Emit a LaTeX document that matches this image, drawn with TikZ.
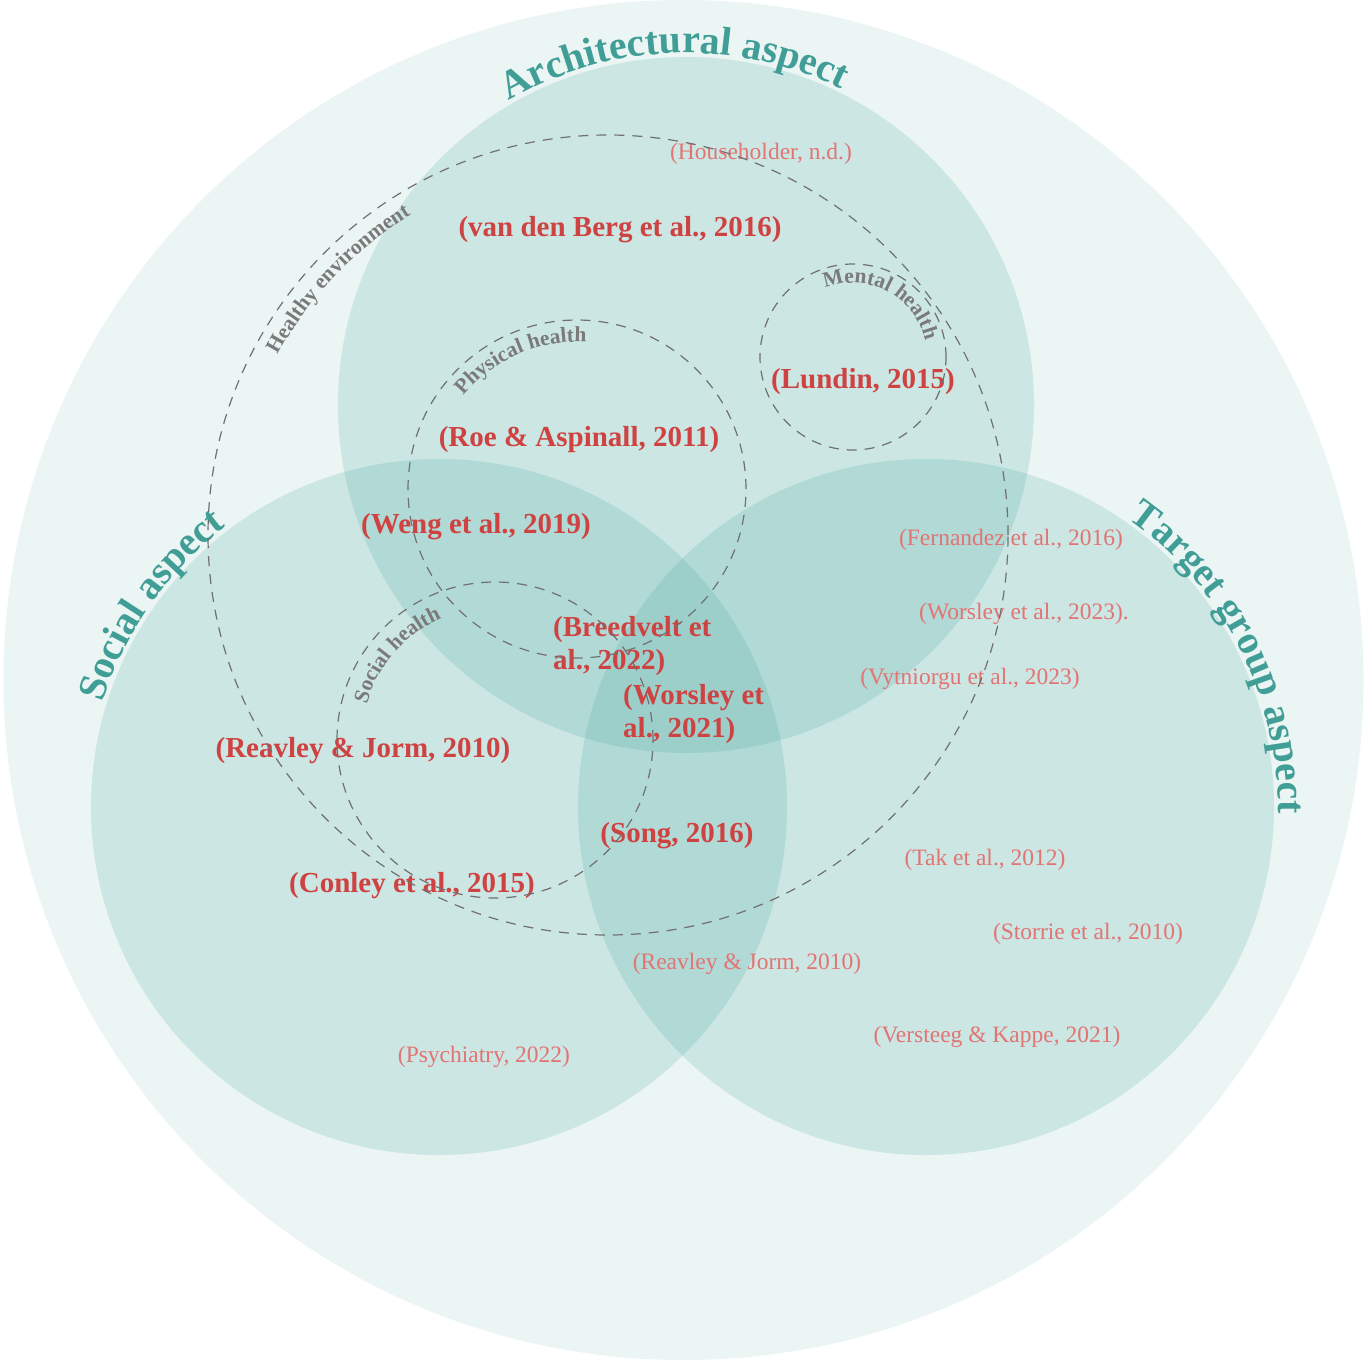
\documentclass[tikz,border=0pt]{standalone}
\usepackage{fontspec}
\setmainfont{Liberation Serif}
\usetikzlibrary{decorations.text}
\definecolor{aspteal}{RGB}{67,166,155}
\definecolor{outerteal}{RGB}{235,245,244}
\definecolor{headteal}{RGB}{64,158,150}
\definecolor{refred}{RGB}{207,66,66}
\definecolor{lightred}{RGB}{226,116,116}
\definecolor{labelgray}{RGB}{122,122,122}
\definecolor{dashgray}{RGB}{112,112,112}
\begin{document}
\begin{tikzpicture}[x=1pt, y=-1pt,
  aspect/.style={circle, inner sep=0pt, fill=aspteal, fill opacity=0.19, minimum size=696pt},
  field/.style={circle, inner sep=0pt, draw=dashgray, line width=1.2pt, dash pattern=on 10pt off 8pt},
  keyref/.style={text=refred, font=\fontsize{29}{33}\selectfont\bfseries, inner sep=0pt, yshift=-2pt},
  minorref/.style={text=lightred, font=\fontsize{23.5}{26}\selectfont, inner sep=0pt, yshift=-2pt},
  heading/.style={decorate, decoration={text along path, text align=center, text color=headteal,
    text={|\fontsize{40}{40}\selectfont\bfseries|#1}}},
  fieldlabel/.style={decorate, decoration={text along path, text align=center, text color=labelgray,
    text={|\fontsize{21.5}{21.5}\selectfont\bfseries|#1}}}]
  \useasboundingbox (0,0) rectangle (1367,1360);
  \node[circle, inner sep=0pt, fill=outerteal, minimum size=1360pt] (whole) at (683.5,680) {};
  \node[aspect] (arch) at (686,405) {};
  \node[aspect] (social) at (439,807) {};
  \node[aspect] (target) at (926,807) {};
  \path[heading=Architectural aspect] ([shift={(140:352pt)}]arch.center) arc[start angle=140, end angle=44, radius=352pt];
  \path[heading=Social aspect] ([shift={(185:352pt)}]social.center) arc[start angle=185, end angle=105, radius=352pt];
  \path[heading=Target group aspect] ([shift={(75:352pt)}]target.center) arc[start angle=75, end angle=-21, radius=352pt];

  \node[keyref] (berg) at (620,228) {(van den Berg et al., 2016)};
  \node[keyref] (lundin) at (863,380) {(Lundin, 2015)};
  \node[keyref] (roe) at (579,438) {(Roe \& Aspinall, 2011)};
  \node[keyref] (weng) at (476,525) {(Weng et al., 2019)};
  \node[keyref, align=left, anchor=west] (breedvelt) at (553,644) {(Breedvelt et\\al., 2022)};
  \node[keyref, align=left, anchor=west] (worsley) at (623,712) {(Worsley et\\al., 2021)};
  \node[keyref] (reavley) at (363,749) {(Reavley \& Jorm, 2010)};
  \node[keyref] (song) at (677,834) {(Song, 2016)};
  \node[keyref] (conley) at (412,884) {(Conley et al., 2015)};

  \node[minorref] (householder) at (761,152) {(Householder, n.d.)};
  \node[minorref] (fernandez) at (1011,538) {(Fernandez et al., 2016)};
  \node[minorref] (worsleyb) at (1024,612) {(Worsley et al., 2023).};
  \node[minorref] (vytniorgu) at (970,677) {(Vytniorgu et al., 2023)};
  \node[minorref] (tak) at (985,858) {(Tak et al., 2012)};
  \node[minorref] (storrie) at (1088,932) {(Storrie et al., 2010)};
  \node[minorref] (reavleyb) at (747,962) {(Reavley \& Jorm, 2010)};
  \node[minorref] (versteeg) at (997,1035) {(Versteeg \& Kappe, 2021)};
  \node[minorref] (psychiatry) at (484,1055) {(Psychiatry, 2022)};

  \node[field, minimum size=800pt] (healthy) at (608,535) {};
  \node[field, minimum size=338pt] (physical) at (577,489) {};
  \node[field, minimum size=186pt] (mental) at (853,357) {};
  \node[field, minimum size=316pt] (socialh) at (495,740) {};
  \path[fieldlabel=Healthy environment] ([shift={(170:376pt)}]healthy.center) arc[start angle=170, end angle=103, radius=376pt];
  \path[fieldlabel=Physical health] ([shift={(160:147pt)}]physical.center) arc[start angle=160, end angle=67, radius=147pt];
  \path[fieldlabel=Mental health] ([shift={(150:74pt)}]mental.center) arc[start angle=150, end angle=-25, radius=74pt];
  \path[fieldlabel=Social health] ([shift={(190:133pt)}]socialh.center) arc[start angle=190, end angle=88, radius=133pt];
\end{tikzpicture}
\end{document}
